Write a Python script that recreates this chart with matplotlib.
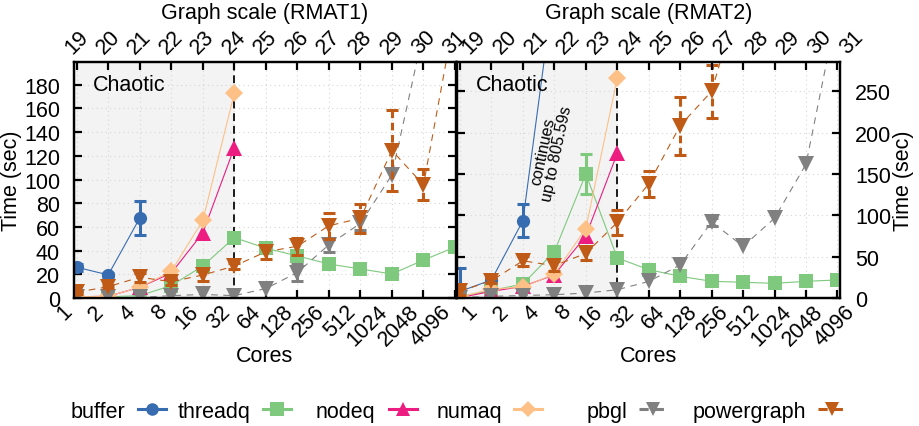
import numpy as np
import matplotlib
matplotlib.use('Agg')
import matplotlib.pyplot as plt
import matplotlib.transforms as mtransforms
from matplotlib.lines import Line2D
from matplotlib.ticker import NullLocator

plt.rcParams['font.family'] = ['Liberation Sans', 'DejaVu Sans']
plt.rcParams['font.size'] = 15.5

nan = np.nan
cores = [1, 2, 4, 8, 16, 32, 64, 128, 256, 512, 1024, 2048, 4096]
core_labels = [str(c) for c in cores]
scale_labels = [str(s) for s in range(19, 32)]
names = ['buffer', 'threadq', 'nodeq', 'numaq', 'pbgl', 'powergraph']

# RMAT1 (left)
r1_buffer = [26, 19.5, 67.5, nan, nan, nan, nan, nan, nan, nan, nan, nan, nan]
r1_buffer_err = [3, 2, 14.5, 0, 0, 0, 0, 0, 0, 0, 0, 0, 0]
r1_threadq = [1, 1, 2, 10.5, 27, 51, 42, 35.5, 28.7, 24.5, 20.3, 32, 43]
r1_threadq_err = [0, 0, 0, 0, 0, 0, 0, 0, 0, 0, 0, 0, 0]
r1_nodeq = [1, 1.5, 9, 21, 55, 127, nan, nan, nan, nan, nan, nan, nan]
r1_nodeq_err = [0, 0, 0, 0, 0, 0, 0, 0, 0, 0, 0, 0, 0]
r1_numaq = [1, 1.5, 9, 22.5, 65.5, 173, nan, nan, nan, nan, nan, nan, nan]
r1_numaq_err = [0, 0, 0, 0, 0, 0, 0, 0, 0, 0, 0, 0, 0]
r1_pbgl = [0.5, 0.5, 0.5, 2, 3, 2, 8, 21.5, 45, 63, 104, 225, 450]
r1_pbgl_err = [0, 0, 0, 0, 0, 0, 0, 7.5, 6, 6, 0, 0, 0]
r1_powergraph = [4.8, 9.6, 17.5, 13.8, 19.4, 27, 39, 43.7, 61, 67.3, 124.5, 95.5, 240]
r1_powergraph_err = [1.5, 1.5, 4, 3, 5, 2.5, 6, 7, 11, 12, 34, 13, 0]

# RMAT2 (right)
r2_buffer = [8, 21.8, 93.5, 380, 805.59, nan, nan, nan, nan, nan, nan, nan, nan]
r2_buffer_err = [28, 3, 20, 0, 0, 0, 0, 0, 0, 0, 0, 0, 0]
r2_threadq = [2, 9, 17, 56, 150, 48.4, 34.3, 26.2, 20.2, 19, 17.7, 20.2, 21.8]
r2_threadq_err = [0, 0, 0, 0, 24, 0, 0, 0, 0, 0, 0, 0, 0]
r2_nodeq = [0.5, 8, 14, 28, 75, 175, nan, nan, nan, nan, nan, nan, nan]
r2_nodeq_err = [0, 0, 0, 0, 0, 0, 0, 0, 0, 0, 0, 0, 0]
r2_numaq = [1, 11, 13, 29, 84, 266, nan, nan, nan, nan, nan, nan, nan]
r2_numaq_err = [0, 0, 0, 0, 0, 0, 0, 0, 0, 0, 0, 0, 0]
r2_pbgl = [0.5, 2, 3, 4, 6, 10, 20, 40, 92, 62.5, 96.5, 162, 350]
r2_pbgl_err = [0, 0, 0, 0, 0, 0, 0, 0, 5, 0, 0, 0, 0]
r2_powergraph = [8, 21, 45, 39, 54, 91.5, 138, 208.5, 250, 380, nan, nan, nan]
r2_powergraph_err = [4, 3, 6, 6, 8, 15, 16, 35, 32, 0, 0, 0, 0]

colors = ['#386cb0', '#7fc97f', '#ec1c80', '#fdc086', '#808080', '#bf5b17']
markers = ['o', 's', '^', 'D', 'v', 'v']
msizes = [9.5, 10, 11, 9, 11, 11]
dashed = [False, False, False, False, True, True]

W, H = 919, 427
fig = plt.figure(figsize=(W / 100, H / 100), dpi=100)


def px_axes(x0, x1, top, bottom):
    return fig.add_axes([x0 / W, (H - bottom) / H, (x1 - x0) / W, (bottom - top) / H])


def draw_panel(ax, series, errs, ylim, yticks, xlim, bot_dx, top_dx):
    ax.set_xscale('log', base=2)
    ax.set_xlim(xlim)
    ax.set_ylim(ylim)
    ax.axvspan(xlim[0], 32, color='#f3f3f3', zorder=0, lw=0)
    ax.set_axisbelow(True)
    ax.grid(True, color='#d6d6d6', ls=(0, (1, 3)), lw=0.8)
    ax.axvline(32, color='#1a1a1a', ls=(0, (4, 2.5)), lw=1.4, zorder=1.5)
    for i, (y, e) in enumerate(zip(series, errs)):
        y = np.array(y, dtype=float)
        e = np.array(e, dtype=float)
        ls = (0, (6, 5)) if dashed[i] else '-'
        ax.plot(cores, y, ls=ls, color=colors[i], lw=0.8, zorder=2 + i)
        m = e > 0
        if m.any():
            _, caps, bars = ax.errorbar(np.array(cores)[m], y[m], yerr=e[m], fmt='none',
                                        ecolor=colors[i], elinewidth=2.2, capsize=4,
                                        capthick=2.2, zorder=2 + i)
            if dashed[i]:
                bars[0].set_linestyle((0, (2.5, 1.5)))
        ax.plot(cores, y, ls='none', marker=markers[i], ms=msizes[i], color=colors[i],
                mec=colors[i], mew=0, zorder=2.5 + i)
    ax.xaxis.set_minor_locator(NullLocator())
    ax.yaxis.set_minor_locator(NullLocator())
    ax.set_xticks(cores, core_labels, rotation=45, ha='right', va='top')
    ax.set_yticks(yticks)
    ax.tick_params(axis='both', direction='in', length=6, width=1.6)
    ax.tick_params(axis='x', pad=2, top=False)
    off = mtransforms.ScaledTranslation(bot_dx / 100, 0, fig.dpi_scale_trans)
    for lbl in ax.get_xticklabels():
        lbl.set_transform(lbl.get_transform() + off)
    for s in ax.spines.values():
        s.set_linewidth(1.6)
    top = ax.twiny()
    top.set_xscale('log', base=2)
    top.set_xlim(xlim)
    top.xaxis.set_minor_locator(NullLocator())
    top.set_xticks(cores, scale_labels, rotation=45, ha='center', va='center')
    top.tick_params(axis='x', direction='in', length=6, width=1.6, pad=15)
    off_t = mtransforms.ScaledTranslation(top_dx / 100, 0, fig.dpi_scale_trans)
    for lbl in top.get_xticklabels():
        lbl.set_transform(lbl.get_transform() + off_t)
    for s in top.spines.values():
        s.set_linewidth(1.6)
    return top


ax1 = px_axes(74, 455.5, 63.3, 299)
draw_panel(ax1,
           [r1_buffer, r1_threadq, r1_nodeq, r1_numaq, r1_pbgl, r1_powergraph],
           [r1_buffer_err, r1_threadq_err, r1_nodeq_err, r1_numaq_err, r1_pbgl_err, r1_powergraph_err],
           (0, 199), list(range(0, 181, 20)), (2 ** -0.086, 2 ** 12.016), 0, 0)
ax1.tick_params(axis='y', left=True, right=True, pad=10)

ax2 = px_axes(456.7, 840, 63.3, 299)
draw_panel(ax2,
           [r2_buffer, r2_threadq, r2_nodeq, r2_numaq, r2_pbgl, r2_powergraph],
           [r2_buffer_err, r2_threadq_err, r2_nodeq_err, r2_numaq_err, r2_pbgl_err, r2_powergraph_err],
           (0, 285), list(range(0, 251, 50)), (2 ** -0.105, 2 ** 12.08), 21, 14)
ax2.tick_params(axis='y', left=True, right=True, labelleft=False, labelright=True, pad=11)

for ax in (ax1, ax2):
    ax.text(0.05, 0.905, 'Chaotic', transform=ax.transAxes, ha='left', va='center', zorder=20)
ax2.text(550 / W, 1 - 153 / H, 'continues\nup to 805.59s', transform=fig.transFigure,
         rotation=78, ha='center', va='center', fontsize=11.5, linespacing=0.9, zorder=20)

fig.text(12 / W, 1 - 181 / H, 'Time (sec)', rotation=90, ha='center', va='center')
fig.text(903 / W, 1 - 181 / H, 'Time (sec)', rotation=90, ha='center', va='center')
fig.text(264.5 / W, 1 - 356 / H, 'Cores', ha='center', va='center')
fig.text(648.5 / W, 1 - 356 / H, 'Cores', ha='center', va='center')
fig.text(264.5 / W, 1 - 13 / H, 'Graph scale (RMAT1)', ha='center', va='center')
fig.text(648.5 / W, 1 - 13 / H, 'Graph scale (RMAT2)', ha='center', va='center')

# legend: label text, then sample line + marker (gnuplot style)
text_right = [125, 250, 375, 502, 627, 806]
mark_x = [152, 277, 403, 528, 653, 832]
for i, name in enumerate(names):
    fig.text(text_right[i] / W, 1 - 418 / H, name, ha='right', va='baseline')
    yl = 1 - 410 / H
    ls = (0, (3, 2)) if dashed[i] else '-'
    fig.add_artist(Line2D([(mark_x[i] - 14) / W, (mark_x[i] + 14) / W], [yl, yl],
                          transform=fig.transFigure, color=colors[i], lw=2.2, ls=ls))
    fig.add_artist(Line2D([mark_x[i] / W], [yl], transform=fig.transFigure, ls='none',
                          marker=markers[i], ms=msizes[i] * 0.95, color=colors[i], mew=0))

fig.savefig('out.png', dpi=100)
